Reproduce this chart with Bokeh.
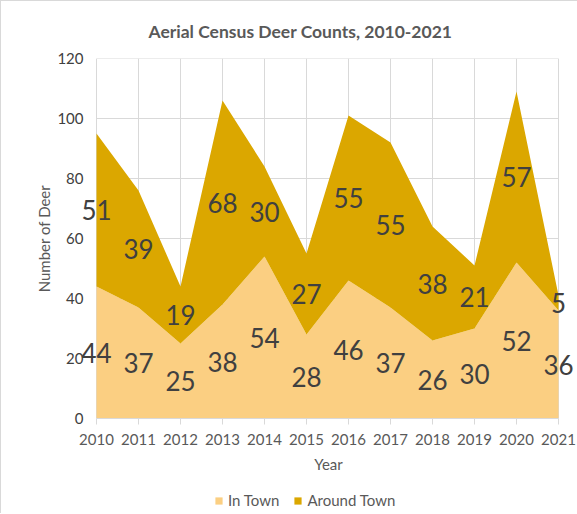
from bokeh.plotting import figure
from bokeh.layouts import column
from bokeh.models import ColumnDataSource, FixedTicker, Legend, LegendItem
from bokeh.core.properties import value
from bokeh.embed import file_html
from bokeh.resources import INLINE

years = [2010, 2011, 2012, 2013, 2014, 2015, 2016, 2017, 2018, 2019, 2020, 2021]
in_town = [44, 37, 25, 38, 54, 28, 46, 37, 26, 30, 52, 36]
around_town = [51, 39, 19, 68, 30, 27, 55, 55, 38, 21, 57, 5]
y_ticks = [0, 20, 40, 60, 80, 100, 120]
series_names = ["In Town", "Around Town"]
colors = ["#FBCF82", "#DBA700"]

FONT = "Lato"
GRID = "#d9d9d9"

src = ColumnDataSource(dict(
    year=years,
    in_town=in_town,
    around_town=around_town,
    in_lab=[str(v) for v in in_town],
    ar_lab=[str(v) for v in around_town],
    in_mid=[a / 2 for a in in_town],
    ar_mid=[a + b / 2 for a, b in zip(in_town, around_town)],
))

# small padding of the x range so that edge labels are not clipped
p = figure(width=576, height=479, output_backend="svg", toolbar_location=None,
           x_range=(years[0] - 0.405, years[-1] + 0.452), y_range=(y_ticks[0], y_ticks[-1]),
           min_border_left=78, min_border_right=0, min_border_top=57, min_border_bottom=62,
           title="Aerial Census Deer Counts, 2010-2021")
p.outline_line_color = None
p.background_fill_color = "white"
p.border_fill_color = "white"

p.title.text_font = FONT
p.title.text_font_size = "17.5px"
p.title.text_font_style = "bold"
p.title.text_color = "#595959"
p.title.align = "left"
p.title.offset = 69
p.title.standoff = 33

# horizontal grid lines spanning the year range only
p.segment(x0=years[0], x1=years[-1], y0=y_ticks, y1=y_ticks, line_color=GRID, line_width=1, level="underlay")
p.ygrid.visible = False
p.xgrid.ticker = FixedTicker(ticks=years)
p.xgrid.grid_line_color = GRID
p.xgrid.level = "underlay"

renderers = p.varea_stack(["in_town", "around_town"], x="year", color=colors, source=src)

for ycol, tcol in (("in_mid", "in_lab"), ("ar_mid", "ar_lab")):
    p.text(x="year", y=ycol, text=tcol, source=src, text_align="center",
           text_baseline="middle", text_font=value(FONT), text_font_size="26px",
           text_color="#404040")

p.xaxis.ticker = FixedTicker(ticks=years)
p.yaxis.ticker = FixedTicker(ticks=y_ticks)
p.xaxis.bounds = (years[0], years[-1])

p.xaxis.axis_label = "Year"
p.yaxis.axis_label = "Number of Deer"
for ax in (p.xaxis, p.yaxis):
    ax.axis_label_text_font = FONT
    ax.axis_label_text_font_size = "15px"
    ax.axis_label_text_font_style = "normal"
    ax.axis_label_text_color = "#595959"
    ax.major_label_text_font = FONT
    ax.major_label_text_font_size = "15px"
    ax.minor_tick_line_color = None

p.xaxis.major_label_text_color = "#595959"
p.yaxis.major_label_text_color = "#404040"
p.xaxis.axis_line_color = GRID
p.xaxis.major_tick_line_color = GRID
p.xaxis.major_tick_in = 0
p.xaxis.major_tick_out = 6
p.xaxis.major_label_standoff = 9
p.xaxis.axis_label_standoff = 7
p.yaxis.axis_line_color = None
p.yaxis.major_tick_line_color = None
p.yaxis.major_tick_in = 0
p.yaxis.major_tick_out = 0
p.yaxis.major_label_standoff = -4
p.yaxis.axis_label_standoff = 1

# legend strip below the chart (its areas lie outside its own view; only the legend shows)
lg = figure(width=576, height=33, output_backend="svg", toolbar_location=None,
            x_axis_type=None, y_axis_type=None, x_range=(0, 1), y_range=(0, 1),
            min_border=0)
lg.outline_line_color = None
lg.grid.visible = False
sw = lg.varea_stack(["in_town", "around_town"], x="year", color=colors, source=src)
legend = Legend(items=[LegendItem(label=series_names[i], renderers=[sw[i]]) for i in range(2)],
                orientation="horizontal", location=(135, 4),
                label_text_font=FONT, label_text_font_size="15px", label_text_color="#595959",
                glyph_width=9, glyph_height=9, label_standoff=5, spacing=14,
                padding=2, margin=0, border_line_color=None, background_fill_alpha=0)
lg.add_layout(legend, "center")

layout = column(p, lg, spacing=0)
layout.styles = {"border-top": "1px solid #d9d9d9", "border-left": "1px solid #d9d9d9"}

open("out.html", "w").write(file_html(layout, INLINE))
